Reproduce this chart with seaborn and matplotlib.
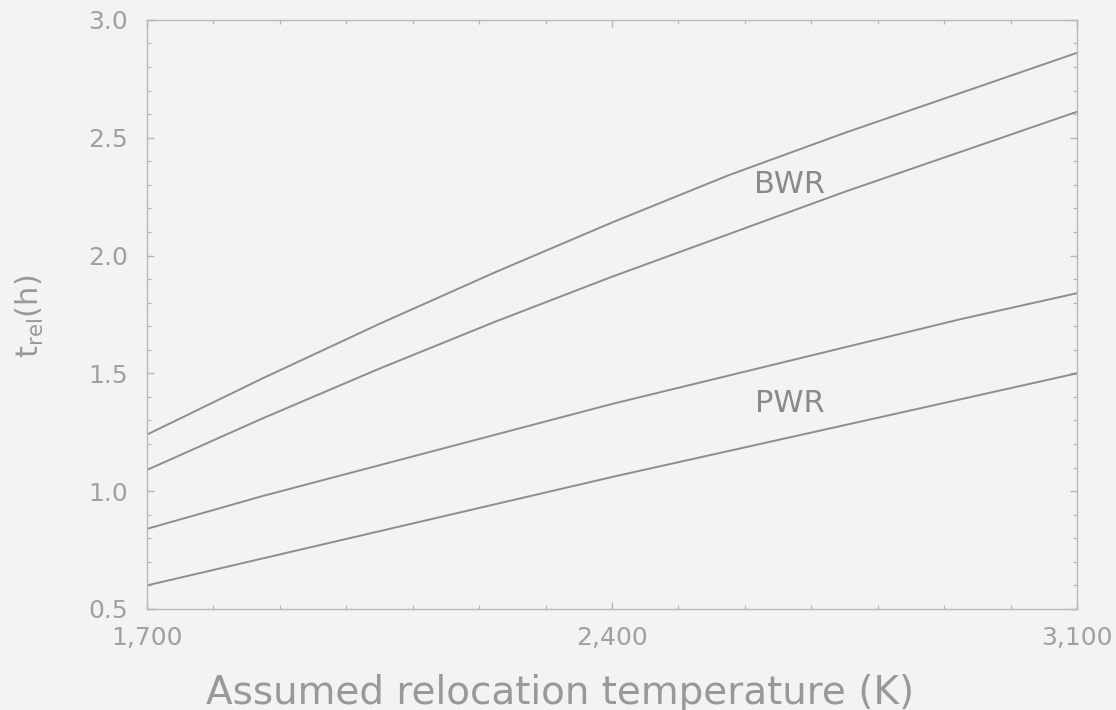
import numpy as np
import pandas as pd
import matplotlib
matplotlib.use("Agg")
import matplotlib.pyplot as plt
from matplotlib.ticker import MultipleLocator, FuncFormatter
import seaborn as sns

temperature = [1700, 1875, 2050, 2225, 2400, 2575, 2750, 2925, 3100]
bwr_upper = [1.24, 1.48, 1.71, 1.93, 2.14, 2.34, 2.52, 2.69, 2.86]
bwr_lower = [1.09, 1.31, 1.52, 1.72, 1.91, 2.09, 2.27, 2.44, 2.61]
pwr_upper = [0.84, 0.98, 1.11, 1.24, 1.37, 1.49, 1.61, 1.73, 1.84]
pwr_lower = [0.60, 0.715, 0.83, 0.945, 1.06, 1.17, 1.28, 1.39, 1.50]
series_names = ["BWR upper", "BWR lower", "PWR upper", "PWR lower"]
x_ticks = [1700, 2400, 3100]
y_ticks = [0.5, 1.0, 1.5, 2.0, 2.5, 3.0]

frames = []
for name, vals in zip(series_names, [bwr_upper, bwr_lower, pwr_upper, pwr_lower]):
    frames.append(pd.DataFrame({"T": temperature, "t": vals, "series": name}))
df = pd.concat(frames, ignore_index=True)

sns.set_theme(style="ticks")
plt.rcParams['font.family'] = ['DejaVu Sans']
plt.rcParams['mathtext.fontset'] = 'custom'
plt.rcParams['mathtext.rm'] = 'DejaVu Sans'
plt.rcParams['mathtext.it'] = 'DejaVu Sans'

bg = "#f3f3f3"
fig = plt.figure(figsize=(11.16, 7.10), dpi=100, facecolor=bg)
ax = fig.add_axes([0.1317, 0.1423, 0.8333, 0.8297])
ax.set_facecolor(bg)

line_color = "#8e8e8e"
sns.lineplot(data=df, x="T", y="t", units="series", estimator=None,
             color=line_color, linewidth=1.4, ax=ax, legend=False)

ax.set_xlim(1700, 3100)
ax.set_ylim(0.5, 3.0)
ax.set_xticks(x_ticks)
ax.xaxis.set_major_formatter(FuncFormatter(lambda v, p: f"{int(v):,}"))
ax.set_yticks(y_ticks)
ax.yaxis.set_major_formatter(FuncFormatter(lambda v, p: f"{v:.1f}"))
ax.yaxis.set_minor_locator(MultipleLocator(0.1))
ax.xaxis.set_minor_locator(MultipleLocator(100))

text_color = "#a0a0a0"
for s in ax.spines.values():
    s.set_color("#b8b8b8")
    s.set_linewidth(1.0)
ax.tick_params(axis="both", which="both", direction="in", colors="#b5b5b5",
               labelcolor=text_color, top=True, right=True)
ax.tick_params(axis="both", which="major", length=5, width=1.0, labelsize=18)
ax.tick_params(axis="both", which="minor", length=3, width=0.8)
ax.tick_params(axis="x", which="major", pad=12)
ax.tick_params(axis="y", which="major", pad=14)

ax.set_xlabel("Assumed relocation temperature (K)", fontsize=28, color="#999999")
ax.xaxis.set_label_coords(0.444, -0.110)
ax.xaxis.label.set_va("top")
ax.set_ylabel(r"$\mathregular{t_{rel}(h)}$", fontsize=22, color="#999999")
ax.yaxis.set_label_coords(-0.126, 0.497)
ax.yaxis.label.set_va("center")

ax.text(2668, 2.30, "BWR", fontsize=22, color="#8a8a8a", ha="center", va="center")
ax.text(2668, 1.37, "PWR", fontsize=22, color="#8a8a8a", ha="center", va="center")

fig.savefig("out.png", dpi=100, facecolor=bg)
